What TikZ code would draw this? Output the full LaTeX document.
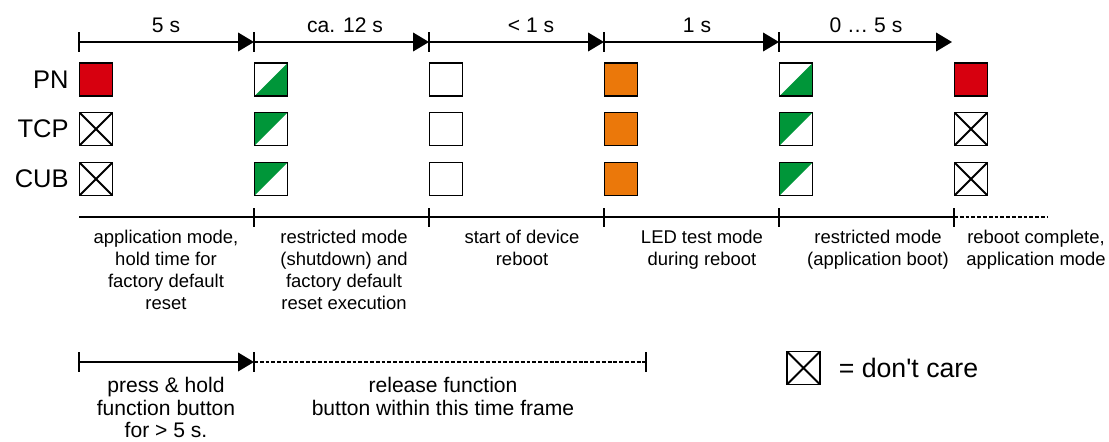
\documentclass[tikz,border=0pt]{standalone}
\usepackage{fontspec}
\setmainfont{Liberation Sans}
\usetikzlibrary{arrows.meta,positioning}

\definecolor{pnred}{RGB}{215,0,15}
\definecolor{ledgreen}{RGB}{0,150,57}
\definecolor{ledorange}{RGB}{235,120,10}

\tikzset{
led/.style={draw,line width=1.1pt,minimum size=0.66cm,inner sep=0pt,outer sep=0pt},
onred/.style={led,fill=pnred},
onorange/.style={led,fill=ledorange},
ledoff/.style={led,fill=white},
dontcare/.style={led,path picture={\draw[line width=1.1pt](path picture bounding box.south west)--(path picture bounding box.north east)(path picture bounding box.north west)--(path picture bounding box.south east);}},
blinkup/.style={led,path picture={\fill[ledgreen](path picture bounding box.south west)-|(path picture bounding box.north east)--cycle;}},
blinkdown/.style={led,path picture={\fill[ledgreen](path picture bounding box.south west)|-(path picture bounding box.north east)--cycle;}},
phase/.style={line width=1.1pt},
tickmark/.style={line width=1.1pt},
dashline/.style={line width=0.9pt,dash pattern=on 2.2pt off 1.1pt},
timearrow/.style={line width=1.1pt,-{Triangle[length=9pt,width=10.5pt]}},
durlabel/.style={inner sep=0pt,font=\fontsize{12}{14}\selectfont},
rowlabel/.style={inner sep=0pt,font=\fontsize{14.5}{17}\selectfont},
legendlabel/.style={inner sep=0pt,font=\fontsize{15.2}{17}\selectfont},
phasetext/.style={inner sep=0pt,anchor=north,align=center,font=\fontsize{10.5}{12.5}\selectfont},
presstext/.style={inner sep=0pt,anchor=north,align=center,font=\fontsize{12}{12.75}\selectfont}
}

\begin{document}
\begin{tikzpicture}[x=0.02cm,y=-0.02cm]
\useasboundingbox (0,0) rectangle (1109,441);
% durations
\foreach \i/\x in {1/79,2/254,3/429,4/604,5/779}{
\coordinate (t\i) at (\x,42);
\draw[tickmark] (\x,32)--(\x,52);
}
\coordinate (t6) at (952,42);
\foreach \a/\b in {1/2,2/3,3/4,4/5,5/6} \draw[timearrow] (t\a)--(t\b);
\foreach \i/\x/\txt in {1/166/5 s,2/345/ca. 12 s,3/531/< 1 s,4/697/1 s,5/866/0 … 5 s}
\node[durlabel] (dur\i) at (\x,25) {\txt};
% LED states
\foreach \c/\x/\p/\t/\u in {1/96/onred/dontcare/dontcare,2/271/blinkup/blinkdown/blinkdown,3/446/ledoff/ledoff/ledoff,4/621/onorange/onorange/onorange,5/796/blinkup/blinkdown/blinkdown,6/971/onred/dontcare/dontcare}{
\node[\p] (pn\c) at (\x,79.5) {};
\node[\t] (tcp\c) at (\x,129) {};
\node[\u] (cub\c) at (\x,179) {};
}
\node[rowlabel,left=6pt of pn1] (pn) {PN};
\node[rowlabel,left=6pt of tcp1] (tcp) {TCP};
\node[rowlabel,left=6pt of cub1] (cub) {CUB};
% phases
\foreach \i/\x in {1/79,2/254,3/429,4/604,5/779,6/954} \coordinate (p\i) at (\x,217);
\coordinate (p7) at (1047,217);
\draw[phase] (p1)--(p6);
\draw[dashline] (p6)--(p7);
\foreach \x in {254,429,604,779,954} \draw[tickmark] (\x,208)--(\x,227);
\node[phasetext] (ph1) at (166,230) {application mode,\\hold time for\\factory default\\reset};
\node[phasetext] (ph2) at (344,230) {restricted mode\\(shutdown) and\\factory default\\reset execution};
\node[phasetext] (ph3) at (522,230) {start of device\\reboot};
\node[phasetext] (ph4) at (702,230) {LED test mode\\during reboot};
\node[phasetext] (ph5) at (878,230) {restricted mode\\(application boot)};
\node[phasetext] (ph6) at (1036,230) {reboot complete,\\application mode};
% button
\coordinate (b1) at (79,362);
\coordinate (b2) at (254,362);
\coordinate (b3) at (646,362);
\draw[timearrow] (b1)--(b2);
\draw[dashline] (b2)--(b3);
\foreach \x in {79,254,646} \draw[tickmark] (\x,352)--(\x,372);
\node[presstext] (press) at (166,377) {press \& hold\\function button\\for > 5 s.};
\node[presstext] (release) at (443,377) {release function\\button within this time frame};
% legend
\node[dontcare] (care) at (803.5,368) {};
\node[legendlabel,right=10.5pt of care] (caretext) {= don\textquotesingle t care};
\end{tikzpicture}
\end{document}
